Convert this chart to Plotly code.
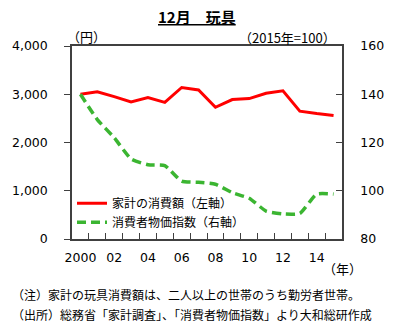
import plotly.graph_objects as go

years = list(range(2000, 2016))
spending = [3000, 3050, 2950, 2840, 2930, 2830, 3140, 3090, 2730, 2890, 2910, 3020, 3070, 2650, 2600, 2560]
cpi = [140, 129.5, 122, 113.2, 110.8, 110.4, 104, 103.5, 102.7, 99.2, 96.9, 91.6, 90.4, 90.6, 98.6, 98.6]
tick_years = [2000, 2002, 2004, 2006, 2008, 2010, 2012, 2014]
tick_text = ["2000", "02", "04", "06", "08", "10", "12", "14"]

FONT = "Noto Sans CJK JP"
NUM = "DejaVu Sans"
AX = "#404040"
xi = list(range(len(years)))

fig = go.Figure()
fig.add_trace(go.Scatter(x=xi, y=spending, mode="lines", name="家計の消費額（左軸）",
                         line=dict(color="#FF0000", width=3)))
fig.add_trace(go.Scatter(x=xi, y=cpi, mode="lines", name="消費者物価指数（右軸）", yaxis="y2",
                         line=dict(color="#3BB531", width=3.5, dash="9px,5px", shape="spline", smoothing=0.5)))

tf = dict(family=NUM, size=12.5, color="#000")
fig.update_layout(
    width=397, height=332,
    margin=dict(l=70, r=55, t=46, b=93),
    paper_bgcolor="white", plot_bgcolor="white",
    font=dict(family=FONT, size=13, color="#000"),
    showlegend=True,
    legend=dict(x=0.0, y=0.26, xanchor="left", yanchor="top", bgcolor="rgba(0,0,0,0)",
                font=dict(size=12), itemwidth=30, tracegroupgap=0),
    xaxis=dict(range=[-0.5, 15.5], tickmode="array",
               tickvals=[years.index(y) for y in tick_years], ticktext=tick_text,
               ticks="", showgrid=False, zeroline=False, showline=True, linecolor=AX, linewidth=1.5,
               mirror=True, tickfont=tf, ticklabelstandoff=6,
               minor=dict(tickmode="array", tickvals=[i + 0.5 for i in range(15)], ticks="inside",
                          ticklen=6, tickcolor=AX, showgrid=False)),
    yaxis=dict(range=[0, 4000], tickvals=[0, 1000, 2000, 3000, 4000], tickformat=",",
               ticks="outside", ticklen=6, tickcolor=AX, showgrid=False, zeroline=False,
               showline=True, linecolor=AX, linewidth=1.5, tickfont=tf, ticklabelstandoff=14),
    yaxis2=dict(range=[80, 160], tickvals=[80, 100, 120, 140, 160], overlaying="y", side="right",
                ticks="inside", ticklen=6, tickcolor=AX, showgrid=False, zeroline=False,
                showline=True, linecolor=AX, linewidth=1.5, tickfont=tf, ticklabelstandoff=14),
)

fig.add_annotation(text="<b><u>12月　玩具</u></b>", x=196, y=17, showarrow=False,
                   xanchor="center", yanchor="middle", font=dict(size=15))
anns = [
    ("（円）", 63, 36, "left", 13),
    ("（2015年=100）", 338, 37, "right", 13),
    ("（年）", 343, 268, "center", 13),
    ("（注）家計の玩具消費額は、二人以上の世帯のうち勤労者世帯。", 8, 294, "left", 12),
    ("（出所）総務省「家計調査」、「消費者物価指数」より大和総研作成", 8, 314, "left", 12),
]
for t, x, y, a, s in anns:
    fig.add_annotation(text=t, x=x, y=y, showarrow=False, xanchor=a, yanchor="middle", font=dict(size=s))

pw, ph = 397 - 70 - 55, 332 - 46 - 93
for ann in fig.layout.annotations:
    px, py = ann.x, ann.y
    ann.xref = "paper"; ann.yref = "paper"
    ann.x = (px - 70) / pw
    ann.y = (332 - 93 - py) / ph

fig.write_html("out.html")
